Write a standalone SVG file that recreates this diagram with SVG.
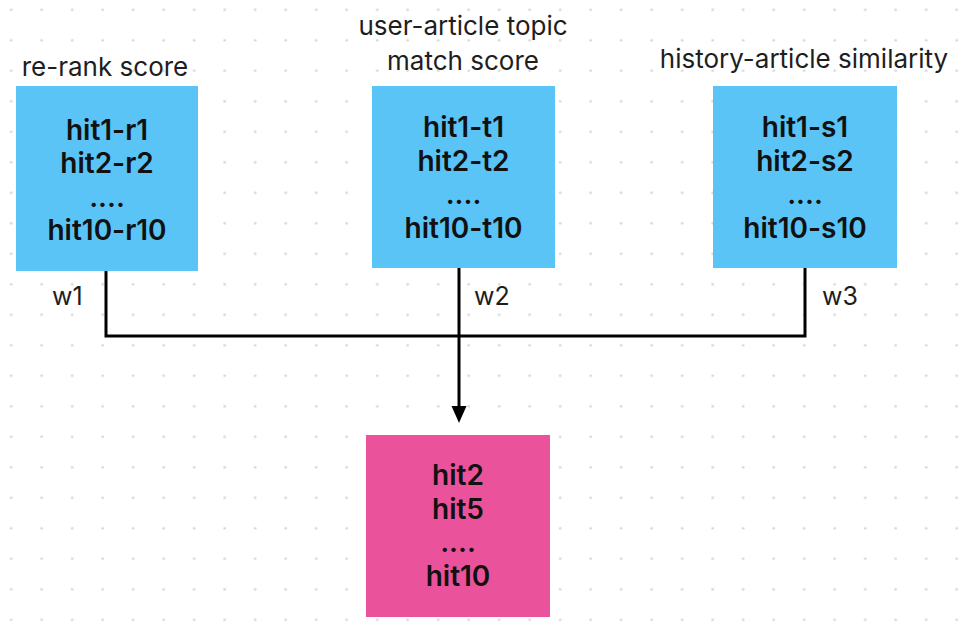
<svg xmlns="http://www.w3.org/2000/svg" width="965" height="632" viewBox="0 0 965 632">
<defs>
<pattern id="dots" patternUnits="userSpaceOnUse" x="-4.05" y="-5.45" width="30.5" height="30.5">
<circle cx="15.25" cy="15.25" r="1.3" fill="#d4d4d4"/>
</pattern>
<style>
.blue{fill:#5AC4F6;}
.pink{fill:#EA539B;}
.bt{font-family:Inter,"Liberation Sans",sans-serif;font-size:28px;font-weight:600;fill:#111;text-anchor:middle;}
.title{font-family:Inter,"Liberation Sans",sans-serif;font-size:26px;font-weight:400;fill:#1e1e1e;text-anchor:middle;}
.lbl{font-family:Inter,"Liberation Sans",sans-serif;font-size:25px;font-weight:400;fill:#1e1e1e;}
.wire{fill:none;stroke:#000;stroke-width:3;}
</style>
</defs>
<rect width="965" height="632" fill="#ffffff"/>
<rect width="965" height="632" fill="url(#dots)"/>
<g id="connectors">
<polyline class="wire" points="106,271 106,336 805,336 805,268"/>
<line class="wire" x1="459" y1="268" x2="459" y2="407"/>
<path d="M451.5,406 L466.5,406 L459,423 Z" fill="#000"/>
<text class="lbl" x="52" y="305">w1</text>
<text class="lbl" x="474" y="305">w2</text>
<text class="lbl" x="822" y="305">w3</text>
</g>
<g id="node-rerank">
<text class="title" x="105" y="76">re-rank score</text>
<rect class="blue" x="16" y="86" width="182" height="185"/>
<text class="bt" x="107" y="139.5">hit1-r1</text>
<text class="bt" x="107" y="173">hit2-r2</text>
<text class="bt" x="107" y="206.5">....</text>
<text class="bt" x="107" y="239.5">hit10-r10</text>
</g>
<g id="node-topic">
<text class="title" x="463" y="35">user-article topic</text>
<text class="title" x="463" y="70">match score</text>
<rect class="blue" x="372" y="86" width="183" height="182"/>
<text class="bt" x="463.5" y="137">hit1-t1</text>
<text class="bt" x="463.5" y="170.5">hit2-t2</text>
<text class="bt" x="463.5" y="204">....</text>
<text class="bt" x="463.5" y="237.5">hit10-t10</text>
</g>
<g id="node-history">
<text class="title" x="804" y="68">history-article similarity</text>
<rect class="blue" x="713" y="86" width="184" height="182"/>
<text class="bt" x="805" y="137">hit1-s1</text>
<text class="bt" x="805" y="170.5">hit2-s2</text>
<text class="bt" x="805" y="204">....</text>
<text class="bt" x="805" y="237.5">hit10-s10</text>
</g>
<g id="node-result">
<rect class="pink" x="366" y="435" width="184" height="182"/>
<text class="bt" x="458" y="485">hit2</text>
<text class="bt" x="458" y="518.5">hit5</text>
<text class="bt" x="458" y="552">....</text>
<text class="bt" x="458" y="585.5">hit10</text>
</g>
</svg>
